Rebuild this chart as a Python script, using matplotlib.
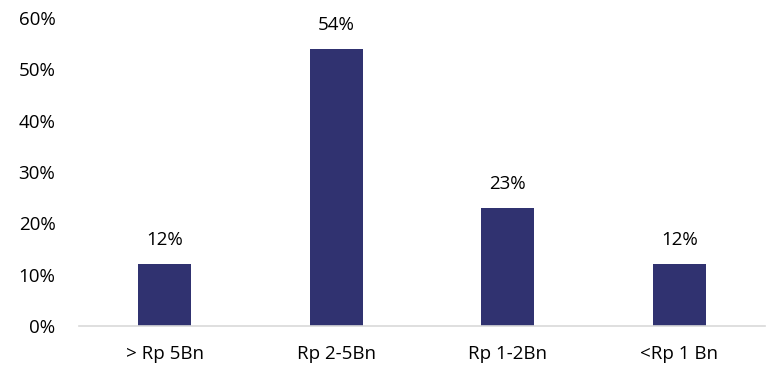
import matplotlib
matplotlib.use('Agg')
import matplotlib.pyplot as plt
from matplotlib.ticker import FuncFormatter

categories = ['> Rp 5Bn', 'Rp 2-5Bn', 'Rp 1-2Bn', '<Rp 1 Bn']
shares = [12, 54, 23, 12]
y_ticks = [0, 10, 20, 30, 40, 50, 60]

plt.rcParams['font.family'] = ['Open Sans', 'DejaVu Sans']

fig = plt.figure(figsize=(7.7, 3.73), dpi=100)
ax = fig.add_axes([0.1026, 0.126, 0.891, 0.8257])

x = range(len(categories))
bars = ax.bar(x, shares, width=0.31, color='#303270')

# value labels above each bar
for rect, v in zip(bars, shares):
    ax.annotate(f'{v}%', (rect.get_x() + rect.get_width() / 2, v),
                xytext=(0, 11), textcoords='offset points',
                ha='center', va='bottom', fontsize=13.5, color='#000000')

ax.set_xlim(-0.5, len(categories) - 0.5)
ax.set_ylim(0, 60)
ax.set_yticks(y_ticks)
ax.yaxis.set_major_formatter(FuncFormatter(lambda v, p: f'{int(v)}%'))
ax.set_xticks(list(x))
ax.set_xticklabels(categories)

for side in ['top', 'right', 'left']:
    ax.spines[side].set_visible(False)
ax.spines['bottom'].set_color('#d9d9d9')
ax.spines['bottom'].set_linewidth(1.2)
ax.tick_params(axis='both', length=0, labelsize=13.5, colors='#000000')
ax.tick_params(axis='y', pad=17)
ax.tick_params(axis='x', pad=14)

fig.savefig('out.png', dpi=100)
